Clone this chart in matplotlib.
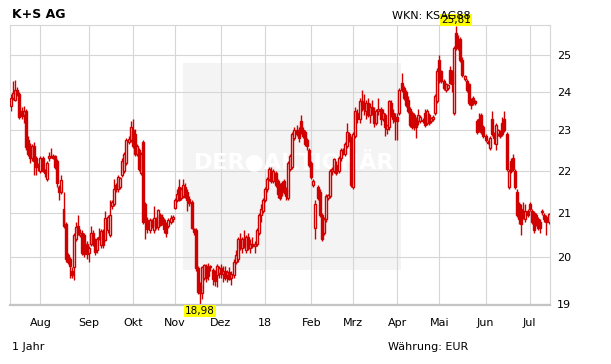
import numpy as np
import pandas as pd
import matplotlib
matplotlib.use("Agg")
import matplotlib.pyplot as plt
from matplotlib.patches import Rectangle
from matplotlib.ticker import FixedLocator, NullLocator

# ---------------- data ----------------
title = "K+S AG"
wkn = "WKN: KSAG88"
period_label = "1 Jahr"
currency_label = "Währung: EUR"
month_labels = ["Aug", "Sep", "Okt", "Nov", "Dez", "18", "Feb", "Mrz", "Apr", "Mai", "Jun", "Jul"]
y_ticks = [19, 20, 21, 22, 23, 24, 25]
start_date, end_date = "2017-07-12", "2018-07-13"
holidays = ["2017-10-03", "2017-10-31", "2018-01-01", "2018-03-30", "2018-04-02", "2018-05-01"]

opens = [
    23.62, 23.85, 23.80, 24.05, 23.95, 23.50, 23.40, 23.50, 22.75, 22.60, 22.30, 22.62, 22.30, 22.08,
    22.00, 22.30, 22.02, 21.80, 22.30, 22.33, 22.37, 22.35, 22.25, 21.60, 21.50, 21.10, 20.75, 20.05, 19.95, 19.70, 19.78, 20.40, 20.70, 20.50, 20.55, 20.50, 20.30,
    20.10, 20.30, 20.55, 20.38, 20.15, 20.45, 20.27, 20.58, 20.38, 20.60, 20.50, 21.15, 21.20, 21.65, 21.55, 21.60, 21.90, 22.00, 22.20, 22.70, 22.75,
    23.00, 22.90, 22.40, 22.50, 21.95, 22.70, 21.20, 20.84, 20.60, 20.84, 20.60, 20.84, 20.67, 20.95, 20.90, 20.84, 20.75, 20.70, 20.80, 20.85,
    21.12, 21.30, 21.60, 21.35, 21.40, 21.62, 21.50, 21.32, 21.25, 20.62, 20.60, 19.75, 19.40, 19.22, 19.55, 19.80, 19.78, 19.78, 19.72, 19.68, 19.60, 19.65,
    19.75, 19.62, 19.70, 19.60, 19.68, 19.55, 19.60, 19.90, 19.95, 20.35, 20.20, 20.40, 20.15, 20.45, 20.20, 20.30, 20.25, 20.30, 20.55, 20.95, 21.05,
    21.30, 21.55, 21.80, 22.00, 21.75, 21.95, 21.75, 21.65, 21.70, 21.75, 21.55, 21.35, 22.05, 22.10, 22.80, 23.00, 23.00, 23.25, 23.00, 22.95, 22.75, 22.50,
    22.20, 21.65, 20.65, 21.60, 21.50, 20.95, 20.55, 20.85, 21.35, 21.40, 22.00, 22.00, 22.15, 22.00, 22.30, 22.50, 22.40, 22.60, 22.90, 22.80,
    21.60, 22.85, 23.45, 23.30, 23.75, 23.70, 23.50, 23.70, 23.40, 23.60, 23.45, 23.20, 23.50, 23.55, 23.30, 23.40, 23.05, 23.10, 23.70, 23.45, 23.35,
    23.35, 23.45, 24.25, 24.10, 24.00, 23.80, 23.55, 23.45, 23.40, 23.30, 23.25, 23.25, 23.28, 23.45, 23.20, 23.40, 23.25, 23.30, 23.45, 23.77,
    24.85, 24.55, 24.30, 24.05, 24.10, 24.60, 24.55, 23.45, 25.60, 25.45, 25.45, 24.85, 24.35, 24.30, 24.20, 23.80, 23.85, 23.75, 23.25, 23.30, 23.40, 23.10,
    22.85, 22.72, 22.55, 23.30, 22.90, 22.65, 22.90, 22.95, 23.20, 23.30, 22.90, 21.60, 22.25, 22.30, 22.00, 21.50, 21.20, 21.10, 21.05, 20.85, 21.05,
    21.20, 21.05, 21.00, 20.95, 20.85, 20.80, 21.02, 20.95, 20.90, 20.80,
]
highs = [
    23.95, 24.28, 24.32, 24.12, 24.00, 23.60, 23.62, 23.55, 22.85, 22.68, 22.65, 22.70, 22.35, 22.20,
    22.35, 22.35, 22.05, 22.25, 22.45, 22.55, 22.40, 22.38, 22.28, 21.65, 21.90, 21.50, 20.80, 20.10, 20.00, 19.78, 20.55, 20.80, 20.95, 20.62, 20.60, 20.55, 20.35,
    20.25, 20.70, 20.60, 20.42, 20.45, 20.65, 20.62, 20.62, 21.05, 20.95, 21.30, 21.30, 21.80, 21.70, 21.90, 21.85, 22.30, 22.45, 22.80, 22.85, 23.25,
    23.30, 23.05, 22.65, 22.55, 22.45, 22.75, 21.25, 20.90, 20.88, 20.87, 21.15, 20.90, 21.10, 21.00, 20.98, 20.88, 20.80, 20.88, 20.95, 20.95,
    21.35, 21.55, 21.80, 21.60, 21.80, 21.70, 21.55, 21.40, 21.30, 20.65, 20.65, 19.80, 19.45, 19.80, 19.85, 19.85, 19.88, 19.82, 19.75, 19.72, 19.85, 19.80,
    19.85, 19.80, 19.80, 19.72, 19.78, 19.70, 19.95, 20.15, 20.45, 20.55, 20.45, 20.60, 20.50, 20.55, 20.40, 20.45, 20.35, 20.65, 21.00, 21.20, 21.35,
    21.60, 21.85, 22.10, 22.10, 22.05, 22.00, 21.80, 21.70, 21.75, 21.80, 21.60, 22.25, 22.40, 22.95, 23.10, 23.15, 23.10, 23.40, 23.10, 23.00, 22.80, 22.55,
    22.25, 21.80, 21.30, 21.65, 21.55, 21.00, 20.90, 21.45, 21.45, 22.05, 22.10, 22.30, 22.25, 22.35, 22.55, 22.55, 22.70, 23.20, 22.95, 22.85,
    22.95, 23.60, 23.55, 23.85, 24.05, 23.95, 23.80, 23.85, 23.70, 23.80, 23.60, 23.55, 23.85, 23.60, 23.55, 23.45, 23.15, 23.80, 23.80, 23.55, 23.45,
    23.45, 24.10, 24.50, 24.15, 24.05, 23.90, 23.60, 23.50, 23.45, 23.35, 23.55, 23.40, 23.32, 23.55, 23.55, 23.45, 23.35, 23.40, 23.95, 24.65,
    25.00, 24.60, 24.35, 24.25, 24.22, 24.70, 24.60, 25.25, 25.81, 25.55, 25.50, 24.95, 24.45, 24.35, 24.25, 23.85, 23.90, 23.80, 23.30, 23.45, 23.45, 23.15,
    22.90, 22.75, 22.85, 23.50, 22.95, 23.20, 23.05, 23.00, 23.35, 23.50, 22.95, 22.05, 22.30, 22.40, 22.05, 21.55, 21.25, 21.20, 21.25, 21.20, 21.10,
    21.25, 21.10, 21.05, 21.00, 20.90, 20.85, 21.10, 21.00, 20.95, 21.00,
]
lows = [
    23.50, 23.78, 23.75, 23.90, 23.30, 23.30, 23.20, 22.50, 22.35, 22.20, 22.25, 21.90, 21.90, 22.00,
    21.95, 21.98, 21.85, 21.75, 22.25, 22.30, 22.28, 22.05, 21.60, 21.30, 21.45, 20.65, 19.90, 19.85, 19.55, 19.55, 19.50, 20.35, 20.50, 20.45, 20.05, 20.00, 19.95,
    19.90, 20.25, 20.25, 20.05, 20.10, 20.38, 20.20, 20.20, 20.35, 20.55, 20.45, 21.10, 21.15, 21.50, 21.50, 21.55, 21.85, 21.95, 22.15, 22.65, 22.70,
    22.55, 22.35, 22.35, 22.00, 21.90, 20.75, 20.40, 20.55, 20.55, 20.65, 20.55, 20.62, 20.60, 20.70, 20.72, 20.55, 20.45, 20.65, 20.75, 20.80,
    21.08, 21.25, 21.28, 21.30, 21.35, 21.35, 21.05, 21.15, 20.62, 20.50, 19.70, 19.20, 18.98, 19.10, 19.50, 19.45, 19.50, 19.70, 19.40, 19.38, 19.35, 19.55,
    19.55, 19.45, 19.50, 19.45, 19.50, 19.40, 19.55, 19.85, 19.90, 20.15, 20.10, 20.20, 20.10, 20.15, 20.10, 20.20, 20.10, 20.25, 20.50, 20.80, 21.00,
    21.25, 21.50, 21.75, 21.70, 21.70, 21.60, 21.35, 21.30, 21.40, 21.45, 21.30, 21.30, 22.00, 22.05, 22.75, 22.85, 22.70, 22.90, 22.80, 22.60, 22.50, 22.10,
    21.80, 21.60, 20.40, 21.30, 20.90, 20.35, 20.50, 20.80, 21.30, 21.35, 21.90, 21.95, 21.90, 21.95, 22.25, 22.38, 22.35, 22.55, 22.70, 21.60,
    21.55, 22.80, 23.20, 23.20, 23.50, 23.40, 23.30, 23.35, 23.20, 23.40, 23.10, 23.15, 23.40, 23.15, 23.25, 22.85, 22.90, 23.00, 23.35, 23.20, 22.75,
    22.75, 23.40, 24.00, 23.80, 23.60, 23.45, 23.10, 23.05, 23.00, 22.80, 23.15, 23.20, 23.20, 23.10, 23.15, 23.15, 23.20, 23.25, 23.40, 23.70,
    24.25, 24.25, 24.05, 24.00, 24.05, 24.20, 24.00, 23.40, 25.15, 25.15, 24.80, 24.40, 24.30, 24.00, 23.65, 23.55, 23.65, 23.65, 22.90, 22.95, 22.90, 22.80,
    22.70, 22.65, 22.50, 22.85, 22.65, 22.50, 22.85, 22.80, 22.85, 22.95, 22.00, 21.55, 21.95, 22.00, 21.55, 20.90, 20.75, 20.50, 20.85, 20.80, 20.90,
    21.05, 20.75, 20.55, 20.70, 20.60, 20.55, 20.95, 20.80, 20.50, 20.75,
]
closes = [
    23.85, 23.98, 24.05, 23.95, 23.35, 23.38, 23.50, 22.58, 22.42, 22.30, 22.60, 22.25, 22.08, 22.12,
    22.30, 22.00, 21.95, 22.20, 22.35, 22.37, 22.32, 22.10, 21.70, 21.50, 21.77, 20.70, 19.95, 19.90, 19.80, 19.60, 20.50, 20.68, 20.55, 20.55, 20.10, 20.07, 20.07,
    20.20, 20.55, 20.30, 20.12, 20.40, 20.43, 20.58, 20.27, 20.88, 20.90, 20.95, 21.25, 21.55, 21.55, 21.85, 21.82, 22.25, 22.40, 22.75, 22.78, 23.10,
    22.62, 22.40, 22.60, 22.05, 22.40, 20.80, 20.85, 20.62, 20.84, 20.70, 20.88, 20.67, 21.07, 20.72, 20.75, 20.62, 20.55, 20.84, 20.88, 20.90,
    21.30, 21.45, 21.30, 21.55, 21.65, 21.38, 21.30, 21.22, 20.65, 20.56, 19.75, 19.25, 19.22, 19.78, 19.82, 19.55, 19.58, 19.80, 19.52, 19.48, 19.80, 19.75,
    19.62, 19.70, 19.55, 19.68, 19.52, 19.62, 19.90, 20.05, 20.40, 20.20, 20.40, 20.25, 20.45, 20.20, 20.30, 20.25, 20.30, 20.60, 20.95, 21.10, 21.30,
    21.55, 21.80, 22.05, 21.75, 22.00, 21.65, 21.45, 21.35, 21.50, 21.55, 21.40, 22.20, 22.35, 22.90, 23.02, 22.90, 22.80, 22.95, 22.85, 22.65, 22.60, 22.15,
    21.85, 21.75, 21.20, 21.35, 20.95, 20.40, 20.85, 21.40, 21.42, 22.00, 22.05, 22.28, 21.95, 22.30, 22.50, 22.45, 22.65, 22.95, 22.75, 21.65,
    22.90, 23.50, 23.30, 23.75, 23.65, 23.55, 23.70, 23.40, 23.60, 23.45, 23.20, 23.50, 23.55, 23.30, 23.45, 23.10, 23.15, 23.75, 23.40, 23.30, 23.25,
    23.25, 24.05, 24.05, 23.85, 23.65, 23.50, 23.15, 23.10, 23.10, 23.10, 23.40, 23.35, 23.25, 23.15, 23.50, 23.20, 23.32, 23.35, 23.90, 24.55,
    24.30, 24.30, 24.10, 24.20, 24.18, 24.25, 24.20, 25.20, 25.20, 25.25, 24.85, 24.45, 24.42, 24.05, 23.70, 23.65, 23.70, 23.70, 22.95, 23.00, 22.95, 22.85,
    22.75, 22.68, 22.80, 22.90, 22.80, 23.15, 23.00, 22.85, 22.90, 23.00, 22.05, 22.00, 22.00, 22.05, 21.60, 20.95, 20.85, 20.75, 20.95, 21.05, 20.95,
    21.08, 20.80, 20.60, 20.75, 20.65, 20.65, 21.05, 20.85, 20.80, 20.98,
]

# ---------------- setup ----------------
RED = "#d10000"
GRID = "#d6d6d6"

dates = pd.bdate_range(start_date, end_date)
dates = dates[~dates.isin(pd.to_datetime(holidays))]
o = np.array(opens); h = np.array(highs); l = np.array(lows); c = np.array(closes)
n = min(len(dates), len(o))
dates = dates[:n]
idx = np.arange(n)

per = dates.to_period("M")
month_pos = [i for i in range(1, n) if per[i] != per[i - 1]]

W, H = 611, 364
fig = plt.figure(figsize=(W / 100, H / 100), dpi=100)
fig.patch.set_facecolor("white")
ax = fig.add_axes([10 / W, 1 - 305 / H, 540 / W, 280 / H])
ax.set_yscale("log")
ax.set_xlim(-0.48, n - 0.3)
ax.set_ylim(18.97, 25.84)

# watermark box + text
ax.add_patch(Rectangle((0.320, 0.125), 0.404, 0.739, transform=ax.transAxes,
                       fc="#f4f4f4", ec="none", zorder=0))
ax.text(0.526, 0.515, "DER●AKTIONÄR", transform=ax.transAxes, ha="center", va="center",
        fontsize=16, fontweight="bold", color="white", zorder=0.6)

# grid
ax.xaxis.set_major_locator(FixedLocator(month_pos))
ax.yaxis.set_major_locator(FixedLocator(y_ticks))
ax.yaxis.set_minor_locator(NullLocator())
ax.xaxis.set_minor_locator(NullLocator())
ax.grid(True, color=GRID, lw=0.8, zorder=0.5)
ax.set_axisbelow(True)

ax.set_xticklabels(month_labels[:len(month_pos)], fontsize=8)
ax.set_yticklabels([str(v) for v in y_ticks], fontsize=8)
ax.yaxis.tick_right()
ax.tick_params(axis="both", length=0, colors="black")
ax.tick_params(axis="x", pad=9)
ax.tick_params(axis="y", pad=5)

for side in ["top", "left", "right"]:
    ax.spines[side].set_color(GRID)
    ax.spines[side].set_linewidth(0.8)
ax.spines["bottom"].set_color("#c4c4c4")
ax.spines["bottom"].set_linewidth(1.6)

# candles
ax.vlines(idx, l[:n], h[:n], color=RED, lw=1.0, zorder=2)
up = c[:n] >= o[:n]
bottom = np.minimum(o[:n], c[:n])
height = np.maximum(np.abs(c[:n] - o[:n]), 0.012)
ax.bar(idx[up], height[up], bottom=bottom[up], width=0.95, color="white",
       edgecolor=RED, linewidth=1.0, zorder=3)
ax.bar(idx[~up], height[~up], bottom=bottom[~up], width=0.95, color=RED,
       edgecolor=RED, linewidth=1.0, zorder=3)

# max / min labels
imax = int(np.argmax(h[:n])); imin = int(np.argmin(l[:n]))
fmt = lambda v: f"{v:.2f}".replace(".", ",")
ax.annotate(fmt(h[imax]), xy=(imax, h[imax]), xytext=(0, 0.6), textcoords="offset points",
            ha="center", va="bottom", fontsize=7.5, annotation_clip=False, zorder=5,
            bbox=dict(boxstyle="square,pad=0.12", fc="#ffff00", ec="none"))
ax.annotate(fmt(l[imin]), xy=(imin, l[imin]), xytext=(0, -1.2), textcoords="offset points",
            ha="center", va="top", fontsize=7.5, annotation_clip=False, zorder=5,
            bbox=dict(boxstyle="square,pad=0.12", fc="#ffff00", ec="none"))

# header / footer texts
fig.text(12 / W, 1 - 15 / H, title, fontsize=9, fontweight="bold", va="center", ha="left")
fig.text(392 / W, 1 - 16 / H, wkn, fontsize=8, va="center", ha="left", zorder=1)
fig.text(12 / W, 1 - 347 / H, period_label, fontsize=8, va="center", ha="left")
fig.text(388 / W, 1 - 347 / H, currency_label, fontsize=8, va="center", ha="left")

fig.savefig("out.png", dpi=100, facecolor="white")
